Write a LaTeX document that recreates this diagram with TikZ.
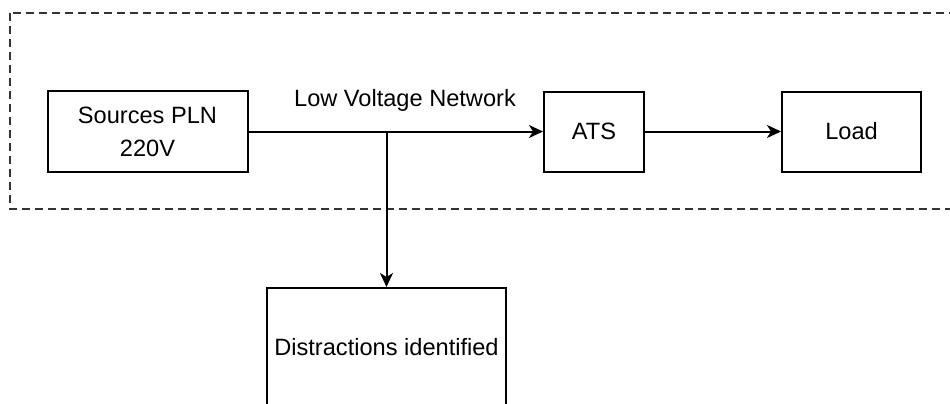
\documentclass[tikz,border=0pt]{standalone}
\usepackage{fontspec}
\setmainfont{Liberation Sans}
\usetikzlibrary{arrows.meta}
\begin{document}
\begin{tikzpicture}[x=1pt,y=1pt,
  blk/.style={draw=black, line width=2pt, rectangle, inner sep=0pt, align=center,
    font=\fontsize{23.6}{33}\selectfont},
  conn/.style={line width=2pt, -{Stealth[length=14pt,width=13pt,inset=4pt]}},
  lbl/.style={font=\fontsize{23.6}{33}\selectfont, inner sep=0pt}]
\useasboundingbox (0,0) rectangle (950,-404);
\clip (0,0) rectangle (950,-404);
\draw[line width=1.4pt, dash pattern=on 8pt off 5pt, draw=black!80] (10,-13) rectangle (970,-209);
\node[blk, minimum width=200pt, minimum height=81pt] (src) at (147.5,-131.5) {Sources PLN\\220V};
\node[blk, minimum width=100pt, minimum height=80pt] (ats) at (594,-131.5) {ATS};
\node[blk, minimum width=139pt, minimum height=80pt] (load) at (851.5,-131.5) {Load};
\node[blk, minimum width=239pt, minimum height=118pt] (dist) at (386.5,-347) {Distractions identified};
\node[lbl] (lv) at (405,-100) {Low Voltage Network};
\coordinate (br) at (dist.north |- src.east);
\draw[conn] (src.east) -- (ats.west);
\draw[conn] (ats.east) -- (load.west);
\draw[conn] (br) -- (dist.north);
\end{tikzpicture}
\end{document}
